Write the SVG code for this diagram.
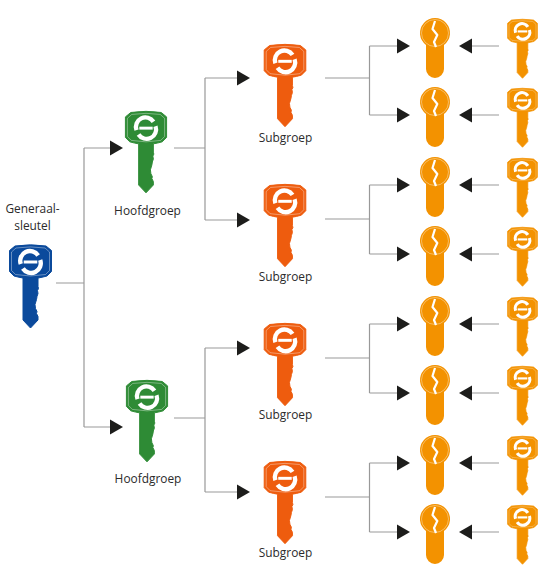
<svg xmlns="http://www.w3.org/2000/svg" width="554" height="578" viewBox="0 0 554 578">
<style>
text{font-family:"Open Sans","Noto Sans","Liberation Sans",sans-serif;font-size:11.9px;fill:#2b2b2b;text-anchor:middle}
.c{fill:none;stroke:#999;stroke-width:1.2}
.a{fill:#1d1d1b}
.blue{color:#0b4a9c}.green{color:#2e8b35}.red{color:#ee5c0e}.or{color:#f39200}
</style>
<defs>
<g id="key">
<path fill="currentColor" stroke="currentColor" stroke-width="1" stroke-linejoin="round" d="M-15.500 1.500Q0-.8 15.500 1.500L21 6V27L16.500 31.500Q11 33 7.500 33.500L7.500 42L8 44L7 46L7.500 49L6.500 52L6 55L4.500 60L5 64L6.500 67L6 69L7.500 72L7.500 75.500L0 83.500L-7.500 75.500V33.500Q-11 33-16.500 31.500L-21 27V6Z"/>
<path fill="none" stroke="#fff" stroke-opacity=".55" stroke-width=".7" d="M-14.500 3.500Q0 1.300 14.500 3.500L19 7.500V26L15 30Q0 33-15 30L-19 26V7.500Z"/>
<path fill="none" stroke="#fff" stroke-width="4.400" d="M7.600 11A9.700 9.700 0 0 0-9.700 19.500M9.700 15.500A9.700 9.700 0 0 1-7.600 24"/>
<path fill="#fff" d="M-6.800 16H6.800V19H-6.800Z"/>
</g>
<g id="cyl">
<path fill="#f39200" d="M-9 27A15 15 0 1 1 9 27V51A9 9 0 0 1-9 51Z"/>
<circle cx="0" cy="15" r="13.500" fill="none" stroke="#fff" stroke-opacity=".55" stroke-width=".7"/>
<path fill="none" stroke="#fff" stroke-width="2.200" stroke-linejoin="round" d="M0 3L-2.500 11L2.300 17L-1 24L1 29"/>
</g>
<path id="ar" class="a" d="M0-7.500L13 0L0 7.500Z"/>
<path id="al" class="a" d="M13-7.500L0 0L13 7.500Z"/>
</defs>
<g id="connectors">
<path class="c" d="M56 283H84M84 148V427M84 148H110M84 427H110"/>
<path class="c" d="M174 148H205M205 78V220M205 78H237M205 220H237"/>
<path class="c" d="M174 418H205M205 348V492M205 348H237M205 492H237"/>
<path class="c" d="M325 78H369.500M369.500 46V115M369.500 46H397M369.500 115H397"/>
<path class="c" d="M325 219H369.500M369.500 185V254M369.500 185H397M369.500 254H397"/>
<path class="c" d="M325 358H369.500M369.500 324V393M369.500 324H397M369.500 393H397"/>
<path class="c" d="M325 497H369.500M369.500 463V532M369.500 463H397M369.500 532H397"/>
<path class="c" d="M472 46H499M472 115H499M472 185H499M472 254H499M472 324H499M472 393H499M472 463H499M472 532H499"/>
<use href="#ar" x="110" y="148"/><use href="#ar" x="110" y="427"/>
<use href="#ar" x="237" y="78"/><use href="#ar" x="237" y="220"/><use href="#ar" x="237" y="348"/><use href="#ar" x="237" y="492"/>
<use href="#ar" x="397" y="46"/><use href="#ar" x="397" y="115"/><use href="#ar" x="397" y="185"/><use href="#ar" x="397" y="254"/><use href="#ar" x="397" y="324"/><use href="#ar" x="397" y="393"/><use href="#ar" x="397" y="463"/><use href="#ar" x="397" y="532"/>
<use href="#al" x="459" y="46"/><use href="#al" x="459" y="115"/><use href="#al" x="459" y="185"/><use href="#al" x="459" y="254"/><use href="#al" x="459" y="324"/><use href="#al" x="459" y="393"/><use href="#al" x="459" y="463"/><use href="#al" x="459" y="532"/>
</g>
<g id="master"><text x="32.500" y="213">Generaal-</text><text x="32.500" y="230">sleutel</text><use class="blue" href="#key" transform="translate(30.500 244.500)"/></g>
<g id="group1"><use class="green" href="#key" transform="translate(146 111) scale(.98)"/><text x="147.500" y="214.500">Hoofdgroep</text></g>
<g id="group2"><use class="green" href="#key" transform="translate(147 380) scale(.98)"/><text x="148" y="483">Hoofdgroep</text></g>
<g id="sub1"><use class="red" href="#key" transform="translate(285 44) scale(.99)"/><text x="285.500" y="142">Subgroep</text></g>
<g id="sub2"><use class="red" href="#key" transform="translate(285 184) scale(.99)"/><text x="285.500" y="281">Subgroep</text></g>
<g id="sub3"><use class="red" href="#key" transform="translate(285 323) scale(.99)"/><text x="285.500" y="419">Subgroep</text></g>
<g id="sub4"><use class="red" href="#key" transform="translate(285 461) scale(.99)"/><text x="285.500" y="557">Subgroep</text></g>
<g id="cyl1"><use href="#cyl" x="435" y="18"/></g>
<g id="cyl2"><use href="#cyl" x="435" y="87"/></g>
<g id="cyl3"><use href="#cyl" x="435" y="157"/></g>
<g id="cyl4"><use href="#cyl" x="435" y="226"/></g>
<g id="cyl5"><use href="#cyl" x="435" y="296"/></g>
<g id="cyl6"><use href="#cyl" x="435" y="365"/></g>
<g id="cyl7"><use href="#cyl" x="435" y="435"/></g>
<g id="cyl8"><use href="#cyl" x="435" y="504"/></g>
<g id="user1"><use class="or" href="#key" transform="translate(522.500 19) scale(.71)"/></g>
<g id="user2"><use class="or" href="#key" transform="translate(522.500 88) scale(.71)"/></g>
<g id="user3"><use class="or" href="#key" transform="translate(522.500 158) scale(.71)"/></g>
<g id="user4"><use class="or" href="#key" transform="translate(522.500 227) scale(.71)"/></g>
<g id="user5"><use class="or" href="#key" transform="translate(522.500 297) scale(.71)"/></g>
<g id="user6"><use class="or" href="#key" transform="translate(522.500 366) scale(.71)"/></g>
<g id="user7"><use class="or" href="#key" transform="translate(522.500 436) scale(.71)"/></g>
<g id="user8"><use class="or" href="#key" transform="translate(522.500 505) scale(.71)"/></g>
</svg>
